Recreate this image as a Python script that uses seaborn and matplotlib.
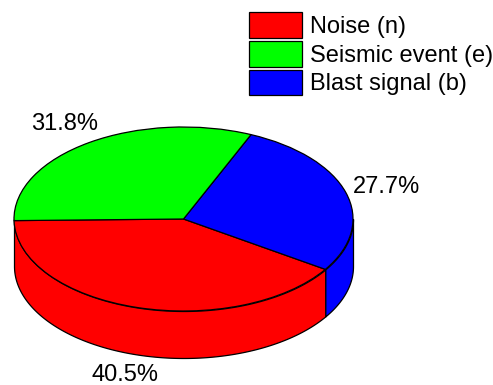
import numpy as np
import seaborn as sns
import matplotlib.pyplot as plt
from matplotlib.patches import Patch

sns.set_style("white")
plt.rcParams['font.family'] = ['Liberation Sans', 'DejaVu Sans']

# 数据
names = ['Noise (n)', 'Blast signal (b)', 'Seismic event (e)']
shares = [40.5, 27.7, 31.8]
pct_labels = ['40.5%', '27.7%', '31.8%']
colors = ['#ff0000', '#0000ff', '#00ff00']

fig = plt.figure(figsize=(4.93, 3.85), dpi=100)
ax = fig.add_axes([0, 0, 1, 1])

# 椭圆的尺寸 (像素)
cx, cy, rx, ry, depth = 183.5, 219, 169.5, 92, 47
start_angle = 181

# 侧面 (只画下半圈)
edges = np.clip(start_angle + np.cumsum([0] + shares) * 3.6, 180, 360)
edges[0] = 180
for i, color in enumerate(colors):
    if edges[i + 1] > edges[i]:
        t = np.radians(np.linspace(edges[i], edges[i + 1], 200))
        ax.fill_between(np.cos(t), np.sin(t), np.sin(t) - depth / ry,
                        color=color, ec='black', lw=0.9, zorder=1)

# 顶面
ax.pie(shares, colors=colors, startangle=start_angle, counterclock=True, radius=1,
       wedgeprops={'edgecolor': 'black', 'linewidth': 0.9, 'zorder': 2})
ax.set_aspect('auto')
ax.set_xlim((0 - cx) / rx, (493 - cx) / rx)
ax.set_ylim((cy - 385) / ry, cy / ry)
ax.axis('off')

# 百分比标签
pos = [(125, 375), (386, 187), (65, 124)]
for (px, py), s in zip(pos, pct_labels):
    ax.text((px - cx) / rx, (cy - py) / ry, s, fontsize=17, color='black',
            ha='center', va='center', zorder=5)

# 图例
order = [0, 2, 1]
handles = [Patch(facecolor=colors[i], edgecolor='black', linewidth=0.9, label=names[i]) for i in order]
fig.legend(handles=handles, loc='upper left', bbox_to_anchor=(248.5 / 493, 1 - 12 / 385),
           bbox_transform=fig.transFigure, frameon=False, fontsize=17, borderaxespad=0,
           borderpad=0, handlelength=2.27, handleheight=1.3, handletextpad=0.35, labelspacing=0.13,
           labelcolor='black')

fig.savefig('out.png', dpi=100)
